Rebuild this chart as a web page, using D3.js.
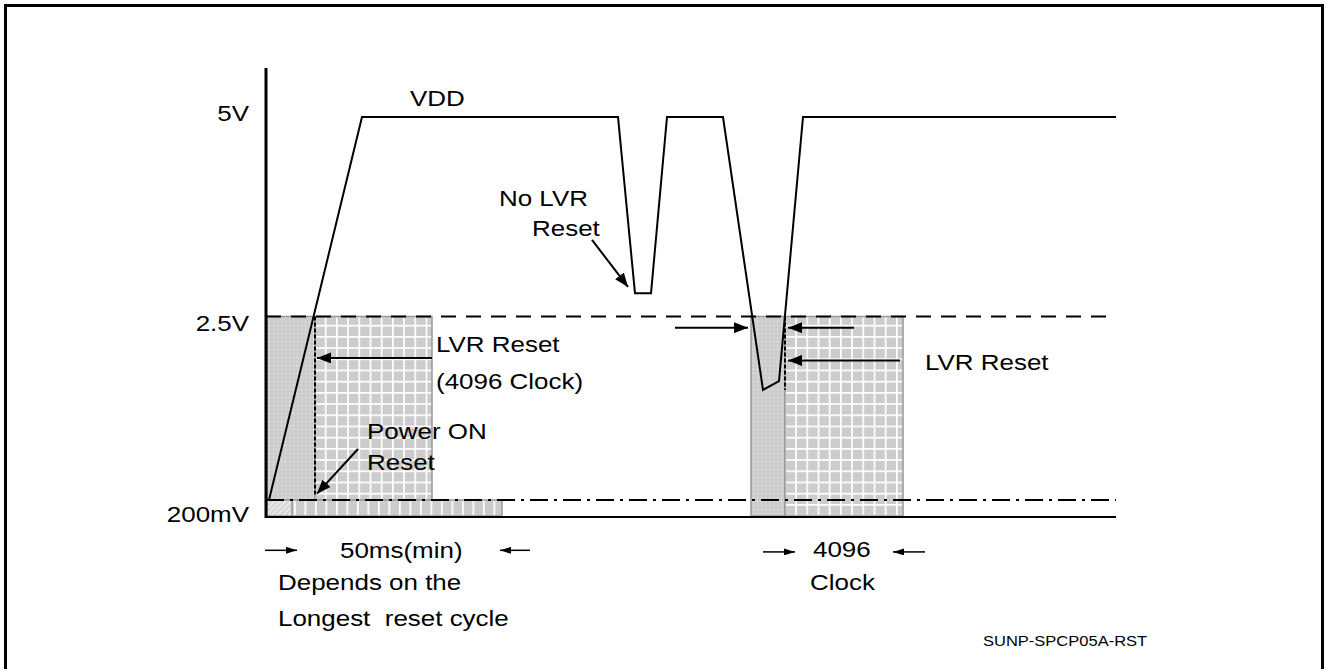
<!DOCTYPE html>
<html><head><meta charset="utf-8">
<script src="https://cdn.jsdelivr.net/npm/d3@7"></script>
<style>
html,body{margin:0;padding:0;background:#fff;}
text{font-family:"Liberation Sans",Arial,sans-serif;fill:#000;white-space:pre;}
</style></head>
<body>
<script>
// ---- data ----
const levelValues = [5, 2.5, 0.2];
const levelLabels = ["5V", "2.5V", "200mV"];
const vddTime = [3, 96, 352, 369, 385, 401, 457, 497, 513, 537, 850];
const vddVolt = [0.2, 5, 5, 2.79, 2.79, 5, 5, 1.58, 1.69, 5, 5];
// shaded regions: [t0, t1, v0, v1]
const dotRegions = [[1, 49, 0.2, 2.5], [485, 519, 0, 2.5]];
const gridRegions = [[49, 166, 0.2, 2.5], [519, 637, 0, 2.5]];
const barRegion = [1, 236, 0, 0.2];
const hatchRegion = [1, 26, 0, 0.2];
const dashedMarks = [[49, 2.5, 0.25], [519, 2.5, 1.58]];
// arrows: [t0, v0, t1, v1]
const arrows = [
  [166, 1.98, 51, 1.98],
  [92, 0.84, 51, 0.28],
  [326, 3.46, 362, 2.87],
  [409, 2.36, 482, 2.36],
  [588, 2.36, 522, 2.36],
  [634, 1.95, 522, 1.95]
];
const smallArrows = [
  [-1, -0.43, 31, -0.43],
  [264, -0.43, 234, -0.43],
  [497, -0.45, 529, -0.45],
  [659, -0.45, 627, -0.45]
];
// labels: [text, t, v]
const labels = [
  ["VDD", 144, 5.15],
  ["No LVR", 233, 3.9],
  ["Reset", 266, 3.52],
  ["LVR Reset", 170, 2.07],
  ["(4096 Clock)", 170, 1.60],
  ["Power ON", 101, 0.98],
  ["Reset", 101, 0.59],
  ["LVR Reset", 659, 1.84],
  ["50ms(min)", 74, -0.52],
  ["Depends on the", 12, -0.91],
  ["Longest  reset cycle", 12, -1.36],
  ["4096", 547, -0.50],
  ["Clock", 544, -0.91]
];
const figId = "SUNP-SPCP05A-RST";

// ---- drawing ----
const W = 1326, H = 669;
const svg = d3.select("body").append("svg").attr("width", W).attr("height", H);
const x = d3.scaleLinear().domain([0, 850]).range([266, 1116]);
const y = d3.scaleLinear().domain([0, 5]).range([516, 117]);
const SX = 1.18, FS = 22;

const defs = svg.append("defs");
// dotted pattern
const pd = defs.append("pattern").attr("id", "dots").attr("patternUnits", "userSpaceOnUse")
  .attr("width", 4).attr("height", 4);
pd.append("rect").attr("width", 4).attr("height", 4).attr("fill", "#cdcdcd");
pd.append("rect").attr("x", 1).attr("y", 1).attr("width", 1).attr("height", 1).attr("fill", "#f2f2f2");
// grid pattern
const pg = defs.append("pattern").attr("id", "grid").attr("patternUnits", "userSpaceOnUse")
  .attr("width", 11.2).attr("height", 11.2);
pg.append("rect").attr("width", 11.2).attr("height", 11.2).attr("fill", "#cccccc");
pg.append("line").attr("x1", 0.8).attr("x2", 0.8).attr("y1", 0).attr("y2", 11.2).attr("stroke", "#fff").attr("stroke-width", 1.8);
pg.append("line").attr("x1", 0).attr("x2", 11.2).attr("y1", 0.8).attr("y2", 0.8).attr("stroke", "#fff").attr("stroke-width", 1.8);
// vertical stripes for bar
const pv = defs.append("pattern").attr("id", "vstripe").attr("patternUnits", "userSpaceOnUse")
  .attr("width", 10.5).attr("height", 20);
pv.append("rect").attr("width", 10.5).attr("height", 20).attr("fill", "#cccccc");
pv.append("line").attr("x1", 0.8).attr("x2", 0.8).attr("y1", 0).attr("y2", 20).attr("stroke", "#fff").attr("stroke-width", 1.8);
// hatch
const ph = defs.append("pattern").attr("id", "hatch").attr("patternUnits", "userSpaceOnUse")
  .attr("width", 4).attr("height", 4).attr("patternTransform", "rotate(45)");
ph.append("rect").attr("width", 4).attr("height", 4).attr("fill", "#d8d8d8");
ph.append("line").attr("x1", 0).attr("x2", 0).attr("y1", 0).attr("y2", 4).attr("stroke", "#f4f4f4").attr("stroke-width", 2);

function mk(id, len, wid) {
  defs.append("marker").attr("id", id).attr("markerUnits", "userSpaceOnUse")
    .attr("viewBox", `0 ${-wid/2} ${len} ${wid}`).attr("refX", len).attr("refY", 0)
    .attr("markerWidth", len).attr("markerHeight", wid).attr("orient", "auto")
    .append("path").attr("d", `M0,${-wid/2}L${len},0L0,${wid/2}Z`).attr("fill", "#000");
}
mk("ah", 14, 11);
mk("ahs", 11, 7);

// frame
svg.append("rect").attr("x", 5.5).attr("y", 5.5).attr("width", 1317).attr("height", 720)
  .attr("fill", "none").attr("stroke", "#000").attr("stroke-width", 3);

// shaded regions
function region(r, fill) {
  return svg.append("rect").attr("x", x(r[0])).attr("y", y(r[3]))
    .attr("width", x(r[1]) - x(r[0])).attr("height", y(r[2]) - y(r[3]))
    .attr("fill", fill).attr("stroke", "#999").attr("stroke-width", 1.5);
}
dotRegions.forEach(r => region(r, "url(#dots)"));
gridRegions.forEach(r => region(r, "url(#grid)"));
region(barRegion, "url(#vstripe)");
region(hatchRegion, "url(#hatch)");

// reference lines
svg.append("line").attr("x1", x(0)).attr("x2", x(842)).attr("y1", y(2.5)).attr("y2", y(2.5))
  .attr("stroke", "#000").attr("stroke-width", 2).attr("stroke-dasharray", "15,10");
svg.append("line").attr("x1", x(0)).attr("x2", x(850)).attr("y1", y(0.2)).attr("y2", y(0.2))
  .attr("stroke", "#000").attr("stroke-width", 2).attr("stroke-dasharray", "18,6,3,6");

// dashed verticals
dashedMarks.forEach(d => {
  svg.append("line").attr("x1", x(d[0])).attr("x2", x(d[0])).attr("y1", y(d[1])).attr("y2", y(d[2]))
    .attr("stroke", "#000").attr("stroke-width", 2).attr("stroke-dasharray", "4,2");
});

// axes
svg.append("line").attr("x1", x(0)).attr("x2", x(850)).attr("y1", 517).attr("y2", 517)
  .attr("stroke", "#000").attr("stroke-width", 2);
svg.append("line").attr("x1", x(0)).attr("x2", x(0)).attr("y1", 68).attr("y2", 518)
  .attr("stroke", "#000").attr("stroke-width", 3);

// VDD waveform
const pts = vddTime.map((t, i) => [t, vddVolt[i]]);
svg.append("path").attr("d", d3.line().x(d => x(d[0])).y(d => y(d[1]))(pts))
  .attr("fill", "none").attr("stroke", "#000").attr("stroke-width", 2).attr("stroke-linejoin", "miter");

// arrows
arrows.forEach(a => {
  svg.append("line").attr("x1", x(a[0])).attr("y1", y(a[1])).attr("x2", x(a[2])).attr("y2", y(a[3]))
    .attr("stroke", "#000").attr("stroke-width", 2).attr("marker-end", "url(#ah)");
});
smallArrows.forEach(a => {
  svg.append("line").attr("x1", x(a[0])).attr("y1", y(a[1])).attr("x2", x(a[2])).attr("y2", y(a[3]))
    .attr("stroke", "#000").attr("stroke-width", 1.5).attr("marker-end", "url(#ahs)");
});

// text helper
function txt(s, px, py, size, anchor, sx) {
  svg.append("text").attr("transform", `translate(${px},${py}) scale(${sx},1)`)
    .attr("font-size", size).attr("text-anchor", anchor || "start").text(s);
}
// level labels
const levelOffsets = [4, 14, 22];
levelValues.forEach((v, i) => txt(levelLabels[i], 249, y(v) + levelOffsets[i], FS, "end", SX));
labels.forEach(l => txt(l[0], x(l[1]), y(l[2]) + 1, FS, "start", SX));
txt(figId, 983, 646, 14, "start", 1.18);
</script>
</body></html>
